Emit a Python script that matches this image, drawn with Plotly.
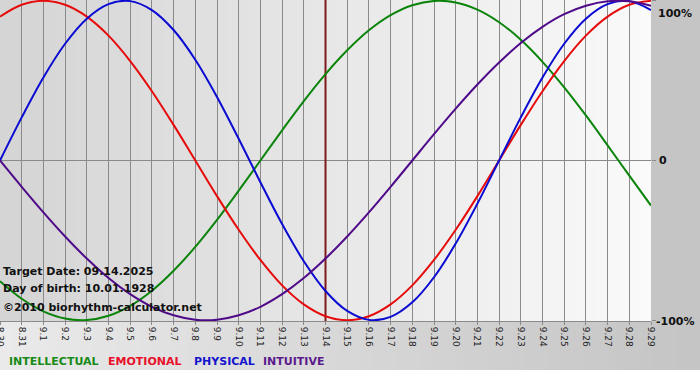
import plotly.graph_objects as go

days = ["8.30", "8.31", "9.1", "9.2", "9.3", "9.4", "9.5", "9.6", "9.7", "9.8", "9.9",
        "9.10", "9.11", "9.12", "9.13", "9.14", "9.15", "9.16", "9.17", "9.18", "9.19",
        "9.20", "9.21", "9.22", "9.23", "9.24", "9.25", "9.26", "9.27", "9.28", "9.29"]

intellectual = [-0.756, -0.866, -0.945, -0.990, -0.999, -0.972, -0.910, -0.815, -0.690, -0.541, -0.372,
                -0.189, 0.000, 0.189, 0.372, 0.541, 0.690, 0.815, 0.910, 0.972, 0.999,
                0.990, 0.945, 0.866, 0.756, 0.618, 0.458, 0.282, 0.095, -0.095, -0.282]
emotional = [0.901, 0.975, 1.000, 0.975, 0.901, 0.782, 0.623, 0.434, 0.223, 0.000, -0.223,
             -0.434, -0.623, -0.782, -0.901, -0.975, -1.000, -0.975, -0.901, -0.782, -0.623,
             -0.434, -0.223, 0.000, 0.223, 0.434, 0.623, 0.782, 0.901, 0.975, 1.000]
physical = [0.000, 0.270, 0.520, 0.731, 0.888, 0.979, 0.998, 0.942, 0.817, 0.631, 0.398,
            0.136, -0.136, -0.398, -0.631, -0.817, -0.942, -0.998, -0.979, -0.888, -0.731,
            -0.520, -0.270, 0.000, 0.270, 0.520, 0.731, 0.888, 0.979, 0.998, 0.942]
intuitive = [0.000, -0.165, -0.325, -0.476, -0.614, -0.736, -0.837, -0.916, -0.969, -0.997, -0.997,
             -0.969, -0.916, -0.837, -0.736, -0.614, -0.476, -0.325, -0.165, 0.000, 0.165,
             0.325, 0.476, 0.614, 0.736, 0.837, 0.916, 0.969, 0.997, 0.997, 0.969]

target_day = "9.14"
y_ticks = [1, 0, -1]
y_labels = ["100%", "0", "-100%"]
info_lines = ["Target Date: 09.14.2025", "Day of birth: 10.01.1928", "\u00a92010 biorhythm-calculator.net"]
legend_names = ["INTELLECTUAL", "EMOTIONAL", "PHYSICAL", "INTUITIVE"]

colors = {"INTELLECTUAL": "#0a840a", "EMOTIONAL": "#e60a0a", "PHYSICAL": "#0a0ad2", "INTUITIVE": "#4f0a8a"}
legend_colors = {"INTELLECTUAL": "#178a17", "EMOTIONAL": "#e8102a", "PHYSICAL": "#1414cc", "INTUITIVE": "#5a1a8c"}

W, H = 700, 380
ML, MR, MT, MB = 0, 49, 0, 59
PW, PH = W - ML - MR, H - MT - MB

def px_to_paper_x(px):
    return (px - ML) / PW

def px_to_paper_y(py):
    return 1 - (py - MT) / PH

fig = go.Figure()

fig.add_trace(go.Scatter(x=[target_day, target_day], y=[-1.01, 1.01], mode="lines",
                         line=dict(color="#7e1a1a", width=2), hoverinfo="skip", showlegend=False))

series = [("INTELLECTUAL", intellectual), ("EMOTIONAL", emotional),
          ("PHYSICAL", physical), ("INTUITIVE", intuitive)]
for name, vals in series:
    fig.add_trace(go.Scatter(x=days, y=vals, mode="lines", name=name,
                             line=dict(color=colors[name], width=2, shape="spline", smoothing=1),
                             showlegend=False))

shapes = []
N = 60
for i in range(N):
    t = i / (N - 1)
    c = int(213 + (250 - 213) * t)
    shapes.append(dict(type="rect", xref="paper", yref="paper", x0=i / N, x1=(i + 1) / N + 0.002,
                       y0=0, y1=1, fillcolor=f"rgb({c},{c},{c})", line=dict(width=0), layer="below"))
shapes.append(dict(type="rect", xref="paper", yref="paper", x0=1, x1=px_to_paper_x(W),
                   y0=0, y1=1, fillcolor="rgb(197,197,197)", line=dict(width=0), layer="below"))
yb0 = px_to_paper_y(370)
for i in range(N):
    t = i / (N - 1)
    c = int(234 + (197 - 234) * t)
    shapes.append(dict(type="rect", xref="paper", yref="paper",
                       x0=px_to_paper_x(W) * i / N, x1=px_to_paper_x(W) * (i + 1) / N + 0.002,
                       y0=yb0, y1=0, fillcolor=f"rgb({c},{c},{c})", line=dict(width=0), layer="below"))

annotations = []
label_pos = {"100%": (656, 13), "0": (657, 160), "-100%": (654, 321)}
for lab in y_labels:
    px, py = label_pos[lab]
    annotations.append(dict(text=f"<b>{lab}</b>", xref="paper", yref="paper",
                            x=px_to_paper_x(px), y=px_to_paper_y(py), xanchor="left", yanchor="middle",
                            showarrow=False, font=dict(family="DejaVu Sans", size=11, color="#111")))

info_y = [271, 288, 307]
for txt, py in zip(info_lines, info_y):
    annotations.append(dict(text=f"<b>{txt}</b>", xref="paper", yref="paper",
                            x=px_to_paper_x(1), y=px_to_paper_y(py), xanchor="left", yanchor="middle",
                            showarrow=False, font=dict(family="DejaVu Sans", size=11, color="#111")))

legend_x = [7, 106, 192, 261]
for name, px in zip(legend_names, legend_x):
    annotations.append(dict(text=f"<b>{name}</b>", xref="paper", yref="paper",
                            x=px_to_paper_x(px), y=px_to_paper_y(362), xanchor="left", yanchor="middle",
                            showarrow=False, font=dict(family="DejaVu Sans", size=11, color=legend_colors[name])))

fig.update_layout(
    width=W, height=H, autosize=False,
    margin=dict(l=ML, r=MR, t=MT, b=MB, pad=0, autoexpand=False),
    paper_bgcolor="white", plot_bgcolor="rgb(230,230,230)",
    showlegend=False,
    shapes=shapes, annotations=annotations,
    xaxis=dict(type="category", categoryorder="array", categoryarray=days,
               range=[0, len(days) - 1], tickvals=days, ticktext=days, tickangle=90,
               tickfont=dict(family="DejaVu Sans", size=9, color="#222"),
               showgrid=True, gridcolor="#8a8a8a", gridwidth=1,
               ticks="outside", ticklen=3, tickcolor="#8a8a8a", automargin=False,
               showline=True, linecolor="#8a8a8a", linewidth=1, fixedrange=True),
    yaxis=dict(range=[-1.005, 1.005], side="right", showgrid=False,
               zeroline=True, zerolinecolor="#8a8a8a", zerolinewidth=1,
               tickvals=y_ticks, showticklabels=False, ticks="outside", ticklen=4,
               tickcolor="#8a8a8a", showline=False, fixedrange=True, automargin=False),
)

fig.write_html("out.html", config={"displayModeBar": False},
               post_script="document.body.style.margin='0px';document.body.style.overflow='hidden';")
